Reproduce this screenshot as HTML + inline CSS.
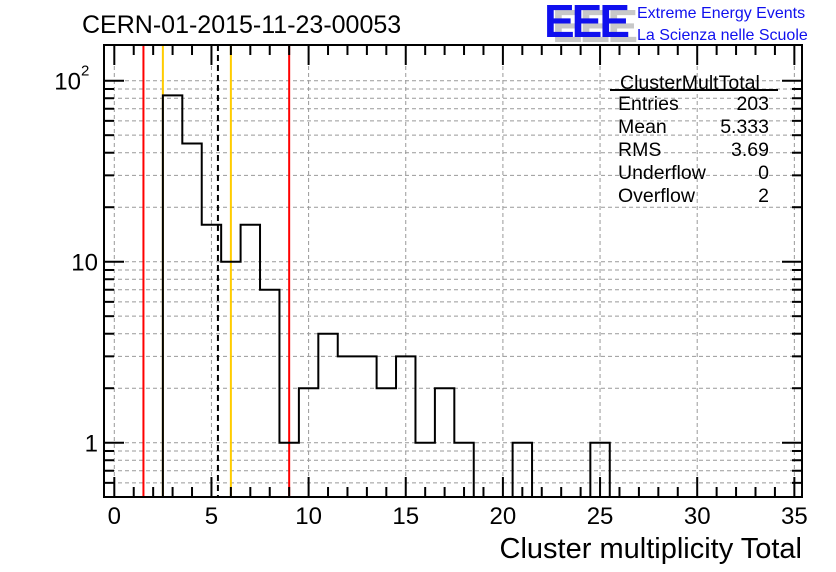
<!DOCTYPE html>
<html><head><meta charset="utf-8"><style>
html,body{margin:0;padding:0;background:#fff;}
svg{display:block;font-family:"Liberation Sans",sans-serif;}
</style></head><body>
<svg id="c" width="836" height="572" viewBox="0 0 836 572">
<text x="82" y="33" font-size="25">CERN-01-2015-11-23-00053</text>
<g>
<text x="552" y="42" font-size="46" font-weight="bold" fill="#c8c8c8" letter-spacing="-3">EEE</text>
<text x="544" y="37" font-size="46" font-weight="bold" fill="#1010ee" letter-spacing="-3">EEE</text>
<text x="637" y="18" font-size="16" fill="#1010ee">Extreme Energy Events</text>
<text x="637" y="40" font-size="16" fill="#1010ee">La Scienza nelle Scuole</text>
</g>
<g id="grid"></g>
<g id="marks"></g>
<g id="axes"></g>
<g font-size="19.5">
<text x="620" y="89">ClusterMultTotal</text>
<line x1="610" y1="90" x2="778" y2="90" stroke="#000" stroke-width="2"/>
<text x="618" y="110">Entries</text><text x="769" y="110" text-anchor="end">203</text>
<text x="618" y="133">Mean</text><text x="769" y="133" text-anchor="end">5.333</text>
<text x="618" y="156">RMS</text><text x="769" y="156" text-anchor="end">3.69</text>
<text x="618" y="179">Underflow</text><text x="769" y="179" text-anchor="end">0</text>
<text x="618" y="202">Overflow</text><text x="769" y="202" text-anchor="end">2</text>
</g>
<text x="802" y="558" font-size="29" text-anchor="end">Cluster multiplicity Total</text>
</svg>
<script>
const binCenters=[3,4,5,6,7,8,9,10,11,12,13,14,15,16,17,18,19,20,21,22,23,24,25];
const counts=[83,45,16,10,16,7,1,2,4,3,3,2,3,1,2,1,0,0,1,0,0,0,1];
const xTicks=[0,5,10,15,20,25,30,35];
const yTicks=[1,10,100];
const redLines=[1.5,9];
const orangeLines=[2.5,6];
const meanLine=[5.333];
const L=104,R=802,T=45,B=497;
const X=v=>114.3+19.43*v;
const Y=v=>442.7-181*Math.log10(v);
const NS='http://www.w3.org/2000/svg';
function mk(parent,tag,attrs){const e=document.createElementNS(NS,tag);for(const k in attrs)e.setAttribute(k,attrs[k]);document.getElementById(parent).appendChild(e);return e;}
for(const t of xTicks){const e=mk('grid','line',{x1:X(t),x2:X(t),y1:T,y2:B,stroke:'#999','stroke-dasharray':'4,3'});

}
for(let d=-1;d<=2;d++)for(let m=1;m<10;m++){const v=m*Math.pow(10,d);const y=Y(v);if(y<T||y>B)continue;
const e=mk('grid','line',{x1:L,x2:R,y1:y,y2:y,stroke:'#999','stroke-dasharray':'4,3'});

}
for(const v of redLines){const e=mk('marks','line',{x1:X(v),x2:X(v),y1:T,y2:B,stroke:'#f00','stroke-width':2});

}
for(const v of orangeLines){const e=mk('marks','line',{x1:X(v),x2:X(v),y1:T,y2:B,stroke:'#fc0','stroke-width':2});

}
for(const v of meanLine){const e=mk('marks','line',{x1:X(v),x2:X(v),y1:T,y2:B,stroke:'#000','stroke-width':2,'stroke-dasharray':'6,4'});

}
let p='M'+X(binCenters[0]-0.5)+','+B;
const yb=c=>c>0?Y(c):B;
for(let i=0;i<binCenters.length;i++){const y=yb(counts[i]);p+=' L'+X(binCenters[i]-0.5)+','+y+' L'+X(binCenters[i]+0.5)+','+y;}
p+=' L'+X(binCenters[binCenters.length-1]+0.5)+','+B;
const h=mk('marks','path',{d:p,fill:'none',stroke:'#000','stroke-width':2});


const f=mk('axes','rect',{x:L,y:T,width:R-L,height:B-T,fill:'none',stroke:'#000','stroke-width':2});


for(let v=0;v<=35;v++){const len=v%5==0?20:10;
mk('axes','line',{x1:X(v),x2:X(v),y1:B,y2:B-len,stroke:'#000','stroke-width':2});
mk('axes','line',{x1:X(v),x2:X(v),y1:T,y2:T+len,stroke:'#000','stroke-width':2});}
for(const t of xTicks){const e=mk('axes','text',{x:X(t),y:524,'font-size':24,'text-anchor':'middle'});e.textContent=t;

}
for(let d=-1;d<=2;d++)for(let m=1;m<10;m++){const v=m*Math.pow(10,d);const y=Y(v);if(y<T||y>B)continue;const len=m==1?20:10;
mk('axes','line',{x1:L,x2:L+len,y1:y,y2:y,stroke:'#000','stroke-width':2});
mk('axes','line',{x1:R,x2:R-len,y1:y,y2:y,stroke:'#000','stroke-width':2});}
const yl=['1','10','10'];
yTicks.forEach((t,i)=>{const e=mk('axes','text',{x:i==2?81:98,y:Y(t)+9,'font-size':24,'text-anchor':'end'});e.textContent=yl[i];


if(i==2){const s=mk('axes','text',{x:81,y:Y(t)-5,'font-size':15});s.textContent='2';

}});
</script>
</body></html>
